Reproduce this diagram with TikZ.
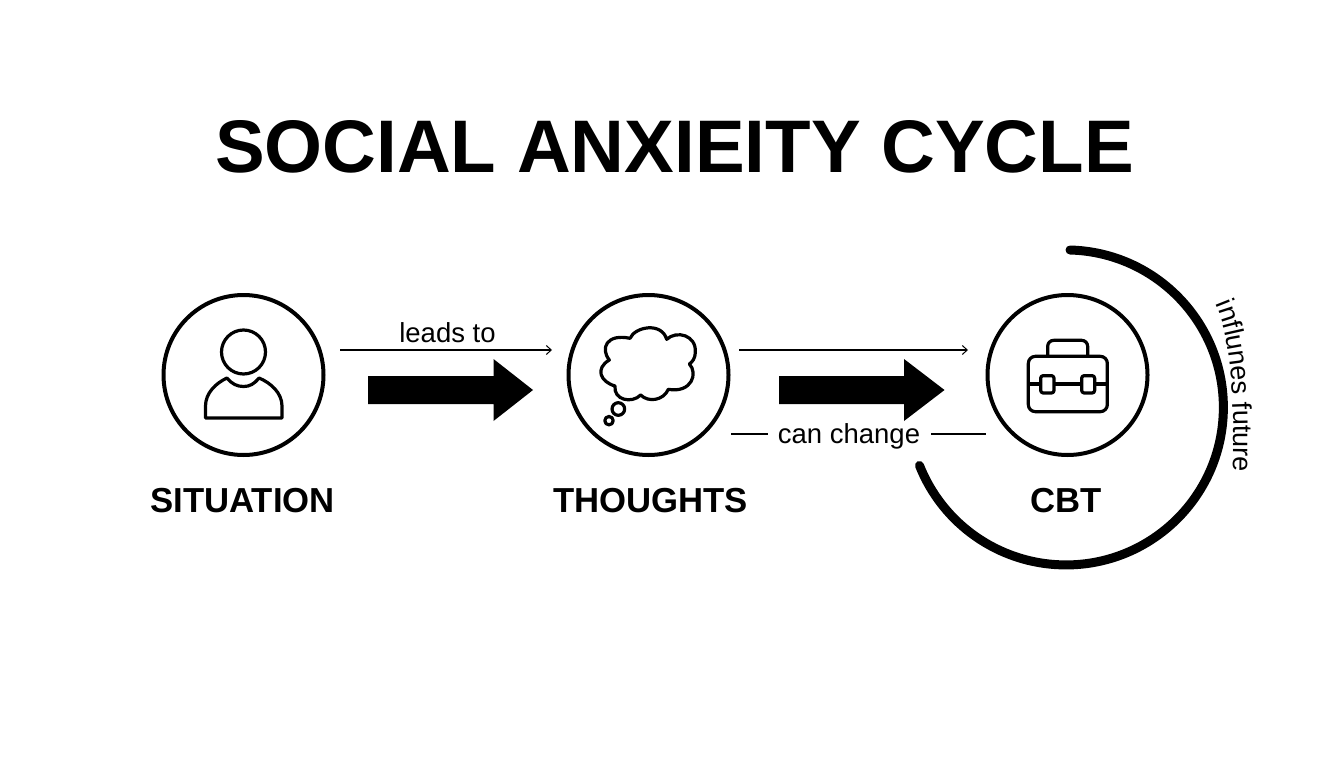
\documentclass[tikz,border=0pt]{standalone}
\usepackage{fontspec}
\setmainfont{Liberation Sans}
\usetikzlibrary{decorations.text,arrows.meta}
\tikzset{
  x=1pt,y=-1pt,
  ring/.style={circle,draw=black,line width=4pt,minimum size=160pt,inner sep=0pt},
  icon/.style={draw=black,line width=3.2pt,line join=round},
  thin link/.style={draw=black,line width=1.1pt},
  thin arrow/.style={thin link,-{Straight Barb[length=5pt,width=9pt,line width=1pt]}},
  big arrow/.style={fill=black,draw=none},
  title text/.style={font=\bfseries\fontsize{74.5}{75}\selectfont,inner sep=0pt},
  name text/.style={font=\bfseries\fontsize{34.7}{35}\selectfont,inner sep=0pt},
  link text/.style={font=\fontsize{27.5}{28}\selectfont,inner sep=0pt},
}
\begin{document}
\begin{tikzpicture}
\useasboundingbox (0,0) rectangle (1344,768);
\node[title text] (title) at (674.5,147) {SOCIAL ANXIEITY CYCLE};

\node[ring] (situation) at (243.5,375) {};
\node[ring] (thoughts) at (648.5,375) {};
\node[ring] (cbt) at (1067.5,375) {};

\node[name text] (l1) at (242.5,501) {SITUATION};
\node[name text] (l2) at (650.5,501) {THOUGHTS};
\node[name text] (l3) at (1066,501) {CBT};

% person icon
\node[circle,icon,minimum size=44pt,inner sep=0pt] (head) at (243.5,352) {};
\draw[icon] (205.5,418) -- (205.5,406) .. controls (205.5,393) and (216,383) .. (227,378)
  .. controls (232,384) and (237,386.5) .. (243.5,386.5)
  .. controls (250,386.5) and (254,384) .. (259,378)
  .. controls (271,383) and (282,393) .. (282,406) -- (282,418) -- cycle;

% thought cloud (zoom coordinates)
\begin{scope}[shift={(550pt,-280pt)},x=0.33333pt,y=-0.33333pt]
\draw[icon] (240,175) .. controls (255,140) and (335,125) .. (350,178)
  .. controls (380,150) and (440,165) .. (436,218)
  .. controls (435,235) and (428,245) .. (418,252)
  .. controls (445,280) and (425,340) .. (355,328)
  .. controls (340,362) and (295,368) .. (272,345)
  .. controls (245,372) and (190,360) .. (195,318)
  .. controls (150,305) and (135,265) .. (178,240)
  .. controls (150,205) and (170,160) .. (240,175) -- cycle;
\draw[icon] (205,387) circle[radius=6.3pt];
\draw[icon] (177,422) circle[radius=4.2pt];
\end{scope}

% briefcase (zoom coordinates)
\begin{scope}[shift={(900pt,-230pt)},x=0.33333pt,y=-0.33333pt]
\draw[icon,rounded corners=7pt] (385,379) rectangle (622,545);
\draw[icon,rounded corners=6pt] (443,379) -- (443,331) -- (563,331) -- (563,379);
\draw[icon] (385,462) -- (622,462);
\draw[icon,fill=white,rounded corners=2.5pt] (422,437) rectangle (462,489);
\draw[icon,fill=white,rounded corners=2.5pt] (545,437) rectangle (584,489);
\end{scope}

% thin connectors
\coordinate (a1s) at (340,350);
\coordinate (a1e) at (552,350);
\coordinate (a2s) at (739,350);
\coordinate (a2e) at (968,350);
\coordinate (c1) at (731,434);
\coordinate (c2) at (986,434);
\draw[thin arrow] (a1s) -- (a1e);
\draw[thin arrow] (a2s) -- (a2e);
\node[link text,anchor=base] (leads) at (447.5,342) {leads to};
\node[link text,anchor=base] (change) at (849,443.5) {can change};
\draw[thin link] (c1) -- (768,434);
\draw[thin link] (931,434) -- (c2);

% block arrows
\fill[big arrow] (368,376) -- (493.5,376) -- (493.5,359) -- (533,390) -- (493.5,421) -- (493.5,404) -- (368,404) -- cycle;
\fill[big arrow] (779,376) -- (904,376) -- (904,359) -- (944.5,390) -- (904,421) -- (904,404) -- (779,404) -- cycle;

% feedback arc
\coordinate (fb) at (1070,250);
\draw[line width=9pt,line cap=round] (fb) arc[start angle=88.5,end angle=-158.4,radius=157.5pt];

% curved label
\path[postaction={decorate,decoration={text along path,text align=center,
  text={|\fontsize{27}{28}\selectfont|influnes future}}}]
  (1213,298) .. controls (1228,330) and (1236,375) .. (1233,478);
\end{tikzpicture}
\end{document}
